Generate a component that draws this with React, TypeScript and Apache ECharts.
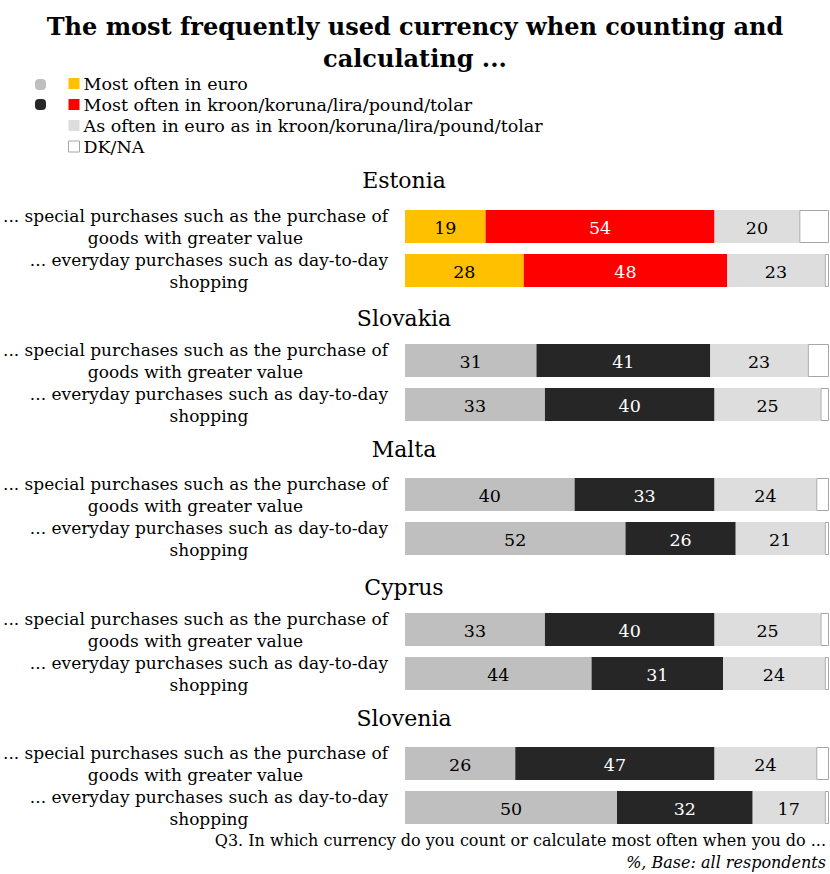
import React, { useEffect, useRef } from "react";
import * as echarts from "echarts";

const countries = ["Estonia", "Slovakia", "Malta", "Cyprus", "Slovenia"];
const questions = [
  "... special purchases such as the purchase of\ngoods with greater value",
  "... everyday purchases such as day-to-day\nshopping",
];
const seriesNames = [
  "Most often in euro",
  "Most often in kroon/koruna/lira/pound/tolar",
  "As often in euro as in kroon/koruna/lira/pound/tolar",
  "DK/NA",
];
const euro = [[19, 28], [31, 33], [40, 52], [33, 44], [26, 50]];
const national = [[54, 48], [41, 40], [33, 26], [40, 31], [47, 32]];
const asOften = [[20, 23], [23, 25], [24, 21], [25, 24], [24, 17]];
const dkna = [[7, 1], [5, 2], [3, 1], [2, 1], [3, 1]];

const FONT = "Georgia, 'DejaVu Serif', serif";
const gridTops = [204.5, 338.5, 472.5, 607.5, 741.5];
const headingY = [180, 318, 449, 587, 718];

export default function App() {
  const ref = useRef<HTMLDivElement>(null);
  useEffect(() => {
    if (!ref.current) return;
    const chart = echarts.init(ref.current, null, { renderer: "svg" });
    const grids = countries.map((_, i) => ({
      left: 405,
      width: 424,
      top: gridTops[i],
      height: 88,
    }));
    const xAxes = countries.map((_, i) => ({
      type: "value",
      gridIndex: i,
      min: 0,
      max: 100,
      show: false,
    }));
    const yAxes = countries.map((_, i) => ({
      type: "category",
      gridIndex: i,
      inverse: true,
      data: questions,
      axisLine: { show: false },
      axisTick: { show: false },
      axisLabel: {
        margin: 17,
        align: "right",
        formatter: (v: string) =>
          v
            .split("\n")
            .map((s) => `{c|${s}}`)
            .join("\n"),
        rich: {
          c: {
            align: "center",
            fontFamily: FONT,
            fontSize: 17,
            lineHeight: 22,
            color: "#000",
          },
        },
      },
    }));
    const series: any[] = [];
    countries.forEach((_, i) => {
      const estonia = i === 0;
      const cols = [
        estonia ? "#FFC000" : "#BFBFBF",
        estonia ? "#FF0000" : "#262626",
        "#DDDDDD",
        "#FFFFFF",
      ];
      const txt = ["#000", "#fff", "#000", "#000"];
      const vals = [euro[i], national[i], asOften[i], dkna[i]];
      vals.forEach((v, k) => {
        series.push({
          name: seriesNames[k],
          type: "bar",
          xAxisIndex: i,
          yAxisIndex: i,
          stack: "s" + i,
          barWidth: 33,
          data: v,
          itemStyle: {
            color: cols[k],
            borderColor: k === 3 ? "#A6A6A6" : "transparent",
            borderWidth: k === 3 ? 1 : 0,
          },
          label: {
            show: k !== 3,
            position: "inside",
            offset: [0, 1],
            fontFamily: FONT,
            fontSize: 17.5,
            color: txt[k],
          },
        });
      });
    });
    chart.setOption({
      animation: false,
      title: [
        {
          text: "The most frequently used currency when counting and\ncalculating ...",
          left: "center",
          top: 5,
          textStyle: {
            fontFamily: FONT,
            fontWeight: "bold",
            fontSize: 24,
            lineHeight: 32,
            color: "#000",
          },
        },
      ],
      legend: {
        orient: "vertical",
        left: 68,
        top: 73.5,
        padding: 0,
        itemWidth: 11,
        itemHeight: 11,
        itemGap: 1,
        selectedMode: false,
        textStyle: { fontFamily: FONT, fontSize: 17.5, lineHeight: 20, color: "#000", padding: [0, 0, 0, -1] },
        data: [
          { name: seriesNames[0], icon: "rect", itemStyle: { color: "#FFC000", borderWidth: 0 } },
          { name: seriesNames[1], icon: "rect", itemStyle: { color: "#FF0000", borderWidth: 0 } },
          { name: seriesNames[2], icon: "rect", itemStyle: { color: "#DDDDDD", borderWidth: 0 } },
          { name: seriesNames[3], icon: "rect", itemStyle: { color: "#FFFFFF", borderColor: "#A6A6A6", borderWidth: 1 } },
        ],
      },
      graphic: [
        { type: "rect", shape: { x: 35, y: 79, width: 11, height: 11, r: 4 }, style: { fill: "#BFBFBF" } },
        { type: "rect", shape: { x: 35, y: 99, width: 11, height: 11, r: 4 }, style: { fill: "#262626" } },
        ...countries.map((c, i) => ({
          type: "text",
          x: 404,
          y: headingY[i],
          style: {
            text: c,
            textAlign: "center",
            textVerticalAlign: "middle",
            fontFamily: FONT,
            fontSize: 22,
            fill: "#000",
          },
        })),
        {
          type: "text",
          x: 826,
          y: 840,
          style: {
            text: "Q3. In which currency do you count or calculate most often when you do ...",
            textAlign: "right",
            textVerticalAlign: "middle",
            fontFamily: FONT,
            fontSize: 16,
            fill: "#000",
          },
        },
        {
          type: "text",
          x: 826,
          y: 862,
          style: {
            text: "%, Base: all respondents",
            textAlign: "right",
            textVerticalAlign: "middle",
            fontFamily: FONT,
            fontStyle: "italic",
            fontSize: 16,
            fill: "#000",
          },
        },
      ],
      grid: grids,
      xAxis: xAxes,
      yAxis: yAxes,
      series,
    });
    return () => chart.dispose();
  }, []);
  return (
    <div
      ref={ref}
      style={{ position: "fixed", left: 0, top: 0, width: 830, height: 874, background: "#fff" }}
    />
  );
}
